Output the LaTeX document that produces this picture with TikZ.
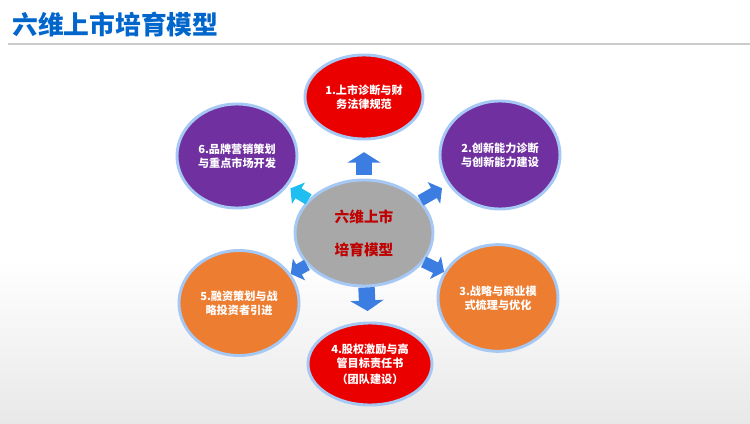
\documentclass[tikz,border=0pt]{standalone}
\usepackage{fontspec}
\setmainfont{Noto Sans CJK SC}
\usetikzlibrary{shapes.geometric,arrows.meta}

\definecolor{titleblue}{RGB}{0,102,204}
\definecolor{glowblue}{RGB}{165,200,245}
\definecolor{arrowblue}{RGB}{60,125,225}
\definecolor{arrowcyan}{RGB}{30,190,240}
\definecolor{bubblered}{RGB}{235,0,0}
\definecolor{bubblepurple}{RGB}{112,48,160}
\definecolor{bubbleorange}{RGB}{237,125,49}
\definecolor{hubgray}{RGB}{168,168,168}
\definecolor{hubred}{RGB}{192,0,0}

\tikzset{
  bubble/.style={ellipse,draw=glowblue,line width=2.5pt,inner sep=0pt,align=center,
    text=white,font=\fontsize{9.5}{12}\selectfont\bfseries},
  hub/.style={bubble,fill=hubgray,text=hubred,minimum width=4.14cm,minimum height=3.18cm,
    font=\fontsize{12.5}{14}\selectfont\bfseries},
  varr/.style={draw=arrowblue,line width=14pt,-{Triangle[width=28pt,length=9pt]}},
  darr/.style={draw=arrowblue,line width=10pt,-{Triangle[width=21pt,length=8pt]}},
}

\begin{document}
\begin{tikzpicture}[x=0.03cm,y=-0.03cm]
\useasboundingbox (0,0) rectangle (750,424);
\fill[white] (0,0) rectangle (750,424);
\shade[top color=white,bottom color=black!9] (0,260) rectangle (750,424);

% title
\node[anchor=west,inner sep=0pt,text=titleblue,font=\fontsize{22}{24}\selectfont\bfseries] (title) at (12,25) {六维上市培育模型};
\draw[black!20,line width=1.2pt] (8,44) -- (750,44);

% hub and six bubbles
\node[hub] (hub) at (364,233) {六维上市\\[14pt]培育模型};
\node[bubble,fill=bubblered,minimum width=3.54cm,minimum height=2.52cm] (n1) at (364,97) {1.上市诊断与财\\务法律规范};
\node[bubble,fill=bubblepurple,minimum width=3.6cm,minimum height=3.24cm] (n2) at (500,155) {2.创新能力诊断\\与创新能力建设};
\node[bubble,fill=bubbleorange,minimum width=3.6cm,minimum height=3.2cm] (n3) at (498,298) {3.战略与商业模\\式梳理与优化};
\node[bubble,fill=bubblered,minimum width=3.72cm,minimum height=2.46cm] (n4) at (370,364) {4.股权激励与高\\管目标责任书\\[2pt]（团队建设）};
\node[bubble,fill=bubbleorange,minimum width=3.6cm,minimum height=3.15cm] (n5) at (239,303) {5.融资策划与战\\略投资者引进};
\node[bubble,fill=bubblepurple,minimum width=3.6cm,minimum height=3.12cm] (n6) at (237,156) {6.品牌营销策划\\与重点市场开发};

% block arrows
\foreach \n/\s/\a/\b in {n1/varr/3pt/10pt,n4/varr/0pt/9pt,n2/darr/0pt/6pt,
                         n3/darr/0pt/0pt,n5/darr/0pt/0pt}
  \draw[\s,shorten <=\a,shorten >=\b] (hub) -- (\n);
\draw[darr,draw=arrowcyan,shorten >=3pt] (hub) -- (n6);
\end{tikzpicture}
\end{document}
